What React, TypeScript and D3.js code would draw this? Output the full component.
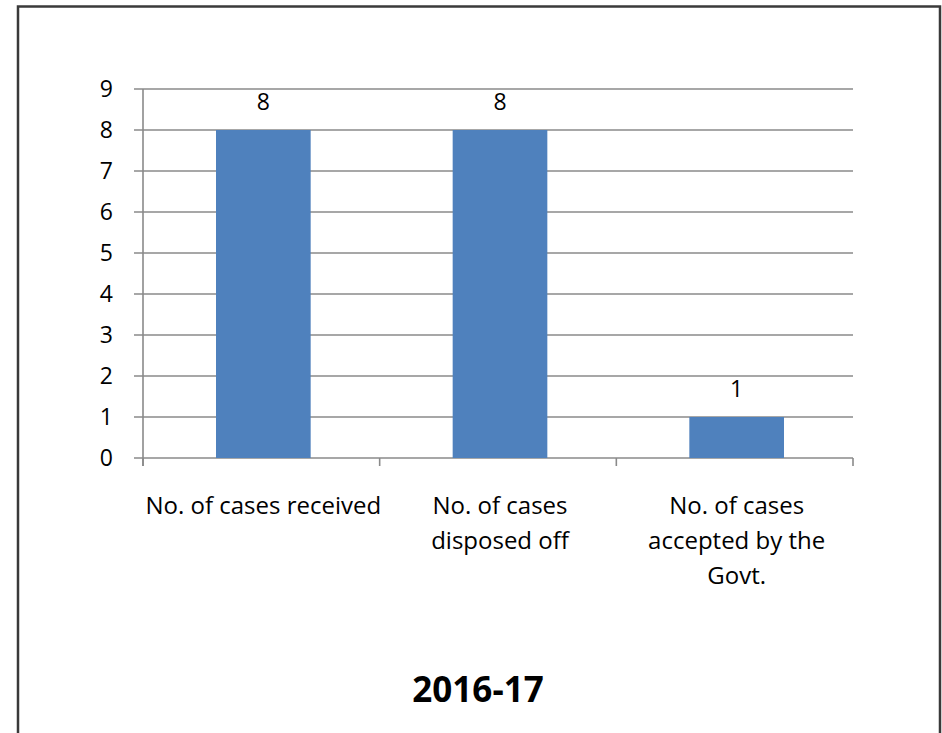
import React from "react";
import * as d3 from "d3";

const categories: string[][] = [
  ["No. of cases received"],
  ["No. of cases", "disposed off"],
  ["No. of cases", "accepted by the", "Govt."],
];
const values: number[] = [8, 8, 1];
const yTicks: number[] = [0, 1, 2, 3, 4, 5, 6, 7, 8, 9];
const title = "2016-17";

const W = 942;
const H = 733;
const plot = { left: 143, right: 853, top: 89, bottom: 458 };
const FONT = "'Open Sans', 'Noto Sans', sans-serif";

export default function App() {
  const x = d3
    .scaleBand<number>()
    .domain(values.map((_, i) => i))
    .range([plot.left + 2, plot.right + 2])
    .paddingInner(0.6)
    .paddingOuter(0.3);
  const y = d3.scaleLinear().domain([0, 9]).range([plot.bottom, plot.top]);
  const step = (plot.right - plot.left) / values.length;
  const catEdges = d3.range(values.length + 1).map((i) => plot.left + i * step);
  const gridColor = "#8a8a8a";

  return (
    <svg
      width={W}
      height={H}
      style={{ position: "absolute", left: 0, top: 0, background: "#fff" }}
    >
      <rect x={0} y={0} width={W} height={H} fill="#fff" />
      {/* outer frame */}
      <path
        d={`M18,${H} L18,6.5 L940,6.5 L940,${H}`}
        fill="none"
        stroke="#3a3a3a"
        strokeWidth={2.5}
      />
      {/* gridlines */}
      {yTicks.map((t) => (
        <line
          key={"g" + t}
          x1={plot.left - 9}
          x2={plot.right}
          y1={y(t)}
          y2={y(t)}
          stroke={gridColor}
          strokeWidth={1.6}
        />
      ))}
      {/* y axis */}
      <line
        x1={plot.left}
        x2={plot.left}
        y1={plot.top}
        y2={plot.bottom + 8}
        stroke={gridColor}
        strokeWidth={1.6}
      />
      {/* x ticks */}
      {catEdges.map((e, i) => (
        <line
          key={"xt" + i}
          x1={e}
          x2={e}
          y1={plot.bottom}
          y2={plot.bottom + 8}
          stroke={gridColor}
          strokeWidth={1.6}
        />
      ))}
      {/* y tick labels */}
      {yTicks.map((t) => (
        <text
          key={"yl" + t}
          x={plot.left - 30}
          y={y(t)}
          dy="0.36em"
          textAnchor="end"
          fontFamily={FONT}
          fontSize={23}
          fill="#000"
        >
          {t}
        </text>
      ))}
      {/* bars */}
      {values.map((v, i) => (
        <rect
          key={"b" + i}
          x={x(i)!}
          y={y(v)}
          width={x.bandwidth()}
          height={y(0) - y(v)}
          fill="#4f81bd"
        />
      ))}
      {/* data labels */}
      {values.map((v, i) => (
        <text
          key={"dl" + i}
          x={x(i)! + x.bandwidth() / 2}
          y={y(v) - 20}
          textAnchor="middle"
          fontFamily={FONT}
          fontSize={23}
          fill="#000"
        >
          {v}
        </text>
      ))}
      {/* category labels */}
      {categories.map((lines, i) => (
        <text
          key={"cl" + i}
          textAnchor="middle"
          fontFamily={FONT}
          fontSize={24}
          fill="#000"
        >
          {lines.map((ln, j) => (
            <tspan key={j} x={x(i)! + x.bandwidth() / 2} y={514 + j * 35}>
              {ln}
            </tspan>
          ))}
        </text>
      ))}
      {/* title */}
      <text
        x={478}
        y={702}
        textAnchor="middle"
        fontFamily={FONT}
        fontSize={35}
        fontWeight="bold"
        fill="#000"
      >
        {title}
      </text>
    </svg>
  );
}
